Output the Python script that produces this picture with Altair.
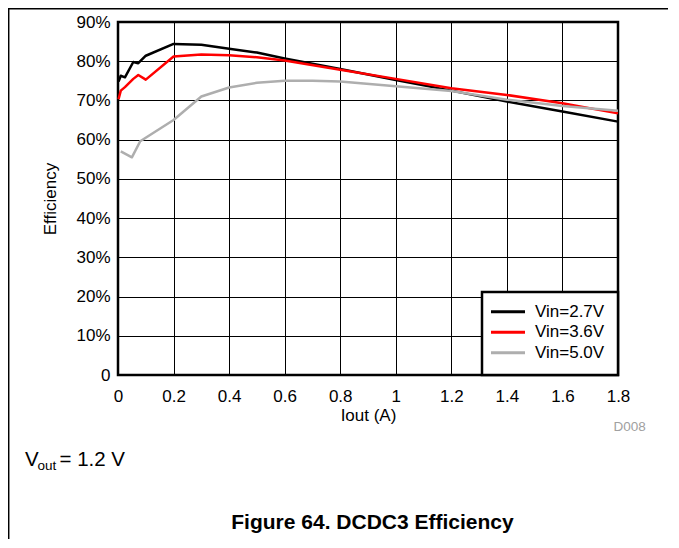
import altair as alt
import pandas as pd

# ---- data ----
series_names = ["Vin=2.7V", "Vin=3.6V", "Vin=5.0V"]
series_colors = ["#000000", "#FF0000", "#AEAEAE"]

iout_27 = [0.002, 0.01, 0.025, 0.055, 0.073, 0.10, 0.20, 0.30, 0.40, 0.50, 0.60, 0.80, 1.00, 1.20, 1.40, 1.60, 1.80]
eff_27 = [74.8, 76.3, 75.9, 79.8, 79.5, 81.4, 84.4, 84.2, 83.2, 82.2, 80.7, 78.0, 75.2, 72.5, 69.7, 67.2, 64.6]

iout_36 = [0.002, 0.01, 0.025, 0.055, 0.073, 0.10, 0.20, 0.30, 0.40, 0.50, 0.60, 0.80, 1.00, 1.20, 1.40, 1.60, 1.80]
eff_36 = [70.3, 72.5, 73.4, 75.5, 76.5, 75.3, 81.2, 81.7, 81.5, 81.0, 80.2, 77.8, 75.5, 73.1, 71.4, 69.3, 66.7]

iout_50 = [0.01, 0.05, 0.08, 0.20, 0.30, 0.40, 0.50, 0.60, 0.70, 0.80, 1.00, 1.20, 1.40, 1.60, 1.80]
eff_50 = [57.0, 55.5, 59.6, 65.0, 71.0, 73.3, 74.5, 75.0, 75.0, 74.8, 73.6, 72.4, 70.2, 68.6, 67.4]

x_ticks = [0, 0.2, 0.4, 0.6, 0.8, 1.0, 1.2, 1.4, 1.6, 1.8]
y_ticks = [0, 10, 20, 30, 40, 50, 60, 70, 80, 90]

rows = []
for name, xs, ys in zip(series_names, [iout_27, iout_36, iout_50], [eff_27, eff_36, eff_50]):
    for xv, yv in zip(xs, ys):
        rows.append({"series": name, "iout": xv, "eff": yv})
df = pd.DataFrame(rows)
one = pd.DataFrame({"a": [0]})

FONT = "Liberation Sans"
FS = 17

lines = alt.Chart(df).mark_line(strokeWidth=2.5, strokeJoin="round").encode(
    x=alt.X("iout:Q",
            scale=alt.Scale(domain=[0, 1.8], nice=False, zero=False),
            axis=alt.Axis(values=x_ticks, title="Iout (A)",
                          labelExpr="format(datum.value, '~g')",
                          labelPadding=13, titlePadding=3)),
    y=alt.Y("eff:Q",
            scale=alt.Scale(domain=[0, 90], nice=False),
            axis=alt.Axis(values=y_ticks, title="Efficiency",
                          labelExpr="datum.value == 0 ? '0' : datum.value + '%'",
                          labelPadding=8, titlePadding=16)),
    color=alt.Color("series:N", scale=alt.Scale(domain=series_names, range=series_colors), legend=None),
    order=alt.Order("iout:Q"),
)

layers = [lines]

# legend box (inside plot, bottom-right)
layers.append(alt.Chart(one).mark_rect(fill="white", stroke="black", strokeWidth=2.5).encode(
    x=alt.value(364), x2=alt.value(500), y=alt.value(270), y2=alt.value(353)))
leg_y = [289.7, 310.3, 330.7]
for name, col, yy in zip(series_names, series_colors, leg_y):
    layers.append(alt.Chart(one).mark_rule(color=col, strokeWidth=3).encode(
        x=alt.value(373), x2=alt.value(407), y=alt.value(yy)))
    layers.append(alt.Chart(one).mark_text(text=name, align="left", baseline="middle",
                                           font=FONT, fontSize=FS, color="black").encode(
        x=alt.value(417), y=alt.value(yy)))

# figure annotations
layers.append(alt.Chart(one).mark_text(text="D008", align="right", baseline="alphabetic",
                                       font=FONT, fontSize=13.5, color="#A0A0A0").encode(
    x=alt.value(527.7), y=alt.value(408.7)))
layers.append(alt.Chart(one).mark_text(text="V", align="left", baseline="alphabetic",
                                       font=FONT, fontSize=20.5, color="black").encode(
    x=alt.value(-93), y=alt.value(444)))
layers.append(alt.Chart(one).mark_text(text="out", align="left", baseline="alphabetic",
                                       font=FONT, fontSize=13.5, color="black").encode(
    x=alt.value(-80.5), y=alt.value(448)))
layers.append(alt.Chart(one).mark_text(text="= 1.2 V", align="left", baseline="alphabetic",
                                       font=FONT, fontSize=20.5, color="black").encode(
    x=alt.value(-58.5), y=alt.value(444)))
layers.append(alt.Chart(one).mark_text(text="Figure 64. DCDC3 Efficiency", align="center",
                                       baseline="alphabetic", font=FONT, fontSize=21,
                                       fontWeight="bold", color="black").encode(
    x=alt.value(254.5), y=alt.value(507.3)))

# page frame lines (top and left)
layers.append(alt.Chart(one).mark_rule(color="black", strokeWidth=1.5).encode(
    x=alt.value(-110), x2=alt.value(560), y=alt.value(-13.3)))
layers.append(alt.Chart(one).mark_rule(color="black", strokeWidth=1.5).encode(
    x=alt.value(-109.3), y=alt.value(-14), y2=alt.value(520)))

chart = alt.layer(*layers).properties(
    width=500, height=353,
    padding={"left": 110, "top": 14, "right": 50, "bottom": 164},
    autosize=alt.AutoSizeParams(type="none"),
).configure_view(
    stroke="black", strokeWidth=2.5
).configure_axis(
    grid=True, gridColor="black", gridWidth=1, gridOpacity=1,
    domain=False, ticks=False,
    labelFont=FONT, labelFontSize=FS, labelColor="black",
    labelFlush=False, labelOverlap=False, labelBound=False,
    titleFont=FONT, titleFontSize=FS, titleFontWeight="normal", titleColor="black",
)

chart.save("out.html", embed_options={"renderer": "svg", "actions": False})
